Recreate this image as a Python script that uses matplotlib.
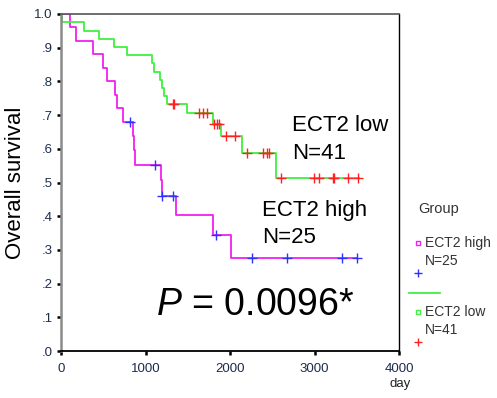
import matplotlib
matplotlib.use("Agg")
import matplotlib.pyplot as plt
from matplotlib.lines import Line2D
import numpy as np

plt.rcParams['font.family'] = ['Liberation Sans', 'DejaVu Sans']
plt.rcParams['mathtext.fontset'] = 'custom'
plt.rcParams['mathtext.it'] = 'Liberation Sans:italic'
plt.rcParams['mathtext.rm'] = 'Liberation Sans'

# Kaplan-Meier steps
high_times = [0, 107, 177, 382, 493, 548, 639, 660, 737, 856, 868, 880, 1183, 1192, 1361, 1795, 2012]
high_surv = [1.0, 0.96, 0.92, 0.88, 0.84, 0.80, 0.76, 0.72, 0.68, 0.6375, 0.595, 0.5525, 0.5065, 0.4604, 0.4028, 0.3453, 0.2762]
high_cens = [816, 1112, 1199, 1329, 1834, 2264, 2671, 3329, 3500]
high_end = 3500

low_times = [0, 10, 276, 453, 627, 785, 1080, 1104, 1175, 1191, 1219, 1250, 1487, 1800, 1893, 2138, 2548]
low_surv = [1.0, 0.976, 0.951, 0.927, 0.902, 0.878, 0.854, 0.829, 0.805, 0.780, 0.756, 0.732, 0.707, 0.675, 0.638, 0.588, 0.514]
low_cens = [1329, 1340, 1637, 1684, 1731, 1815, 1845, 1873, 1953, 2059, 2197, 2394, 2434, 2462,
            2600, 2994, 3053, 3222, 3232, 3393, 3518]
low_end = 3530

xticks = [0, 1000, 2000, 3000, 4000]
yticks = [0.0, 0.1, 0.2, 0.3, 0.4, 0.5, 0.6, 0.7, 0.8, 0.9, 1.0]
ylabels = ['.0', '.1', '.2', '.3', '.4', '.5', '.6', '.7', '.8', '.9', '1.0']

MAG = '#f020f0'
GRN = '#40f040'
BLU = '#3030ff'
RED = '#ff2020'
TCOL = '#1c2c4c'


def surv_at(times, surv, t):
    idx = np.searchsorted(times, t, side='right') - 1
    return np.array(surv)[idx]


W, H = 497, 398
fig = plt.figure(figsize=(W / 100, H / 100), dpi=100)
ax = fig.add_axes([61 / W, 1 - 351 / H, 338 / W, 337 / H])

for times, surv, end, cens, lc, mc in [(high_times, high_surv, high_end, high_cens, MAG, BLU),
                                        (low_times, low_surv, low_end, low_cens, GRN, RED)]:
    tx = list(times) + [end]
    sy = list(surv) + [surv[-1]]
    ax.step(tx, sy, where='post', color=lc, lw=1.3, zorder=2)
    ax.plot(cens, surv_at(times, surv, cens), ls='none', marker='+', ms=6.5, mew=1.0,
            color=mc, zorder=3)

ax.set_xlim(0, 4000)
ax.set_ylim(0, 1.0)
ax.set_xticks(xticks)
ax.set_yticks(yticks)
ax.set_yticklabels(ylabels)
ax.tick_params(axis='both', direction='out', length=3, width=1.8, color='black',
               labelsize=9.5, labelcolor=TCOL)
ax.tick_params(axis='y', pad=3)
ax.tick_params(axis='x', pad=6)

ax.spines['left'].set_color('#8a8a8a')
ax.spines['left'].set_linewidth(1.8)
ax.spines['bottom'].set_color('black')
ax.spines['bottom'].set_linewidth(1.3)
ax.spines['top'].set_color('#555555')
ax.spines['top'].set_linewidth(1.2)
ax.spines['right'].set_color('black')
ax.spines['right'].set_linewidth(1.0)

ax.set_ylabel('Overall survival', fontsize=16, labelpad=6)

ax.text(2734, 0.653, 'ECT2 low', fontsize=16, va='baseline', ha='left')
ax.text(2734, 0.570, 'N=41', fontsize=16, va='baseline', ha='left')
ax.text(2379, 0.401, 'ECT2 high', fontsize=16, va='baseline', ha='left')
ax.text(2379, 0.321, 'N=25', fontsize=16, va='baseline', ha='left')
ax.text(1124, 0.107, r'$P$ = 0.0096*', fontsize=27, va='baseline', ha='left')


def fx(px):
    return px / W


def fy(py):
    return 1 - py / H


fig.text(fx(400), fy(384), 'day', fontsize=9.5, ha='center', va='center', color='#222222')

# legend drawn by hand outside the axes
fig.text(fx(418), fy(213), 'Group', fontsize=10.5, ha='left', va='baseline', color='#333333')
fig.add_artist(Line2D([fx(418)], [fy(243)], marker='s', ms=3.5, mfc='white', mec=MAG, mew=1.0,
                      ls='none', transform=fig.transFigure))
fig.text(fx(425), fy(247.5), 'ECT2 high', fontsize=10, ha='left', va='baseline', color='#333333')
fig.text(fx(425), fy(265), 'N=25', fontsize=10, ha='left', va='baseline', color='#333333')
fig.add_artist(Line2D([fx(418)], [fy(273)], marker='+', ms=6, mew=1.0, color=BLU,
                      ls='none', transform=fig.transFigure))
fig.add_artist(Line2D([fx(409), fx(440)], [fy(292.5), fy(292.5)], color=GRN, lw=1.3,
                      transform=fig.transFigure))
fig.add_artist(Line2D([fx(418)], [fy(312)], marker='s', ms=3.5, mfc='white', mec=GRN, mew=1.0,
                      ls='none', transform=fig.transFigure))
fig.text(fx(425), fy(316), 'ECT2 low', fontsize=10, ha='left', va='baseline', color='#333333')
fig.text(fx(425), fy(333.5), 'N=41', fontsize=10, ha='left', va='baseline', color='#333333')
fig.add_artist(Line2D([fx(418)], [fy(342)], marker='+', ms=6, mew=1.0, color=RED,
                      ls='none', transform=fig.transFigure))

fig.savefig('out.png', dpi=100)
